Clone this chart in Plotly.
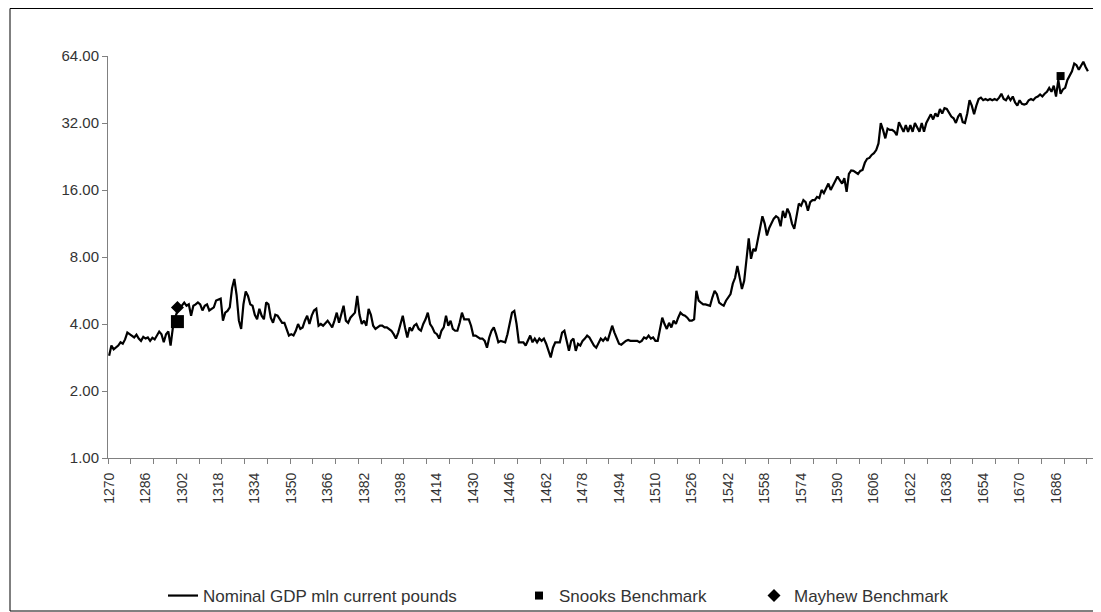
import plotly.graph_objects as go

# nominal GDP, mln current pounds, one value per year from 1270 to 1700
years = list(range(1270, 1701))
gdp = [
    2.88, 3.20, 3.08, 3.13, 3.20, 3.31, 3.26, 3.41, 3.66, 3.60,  # 1270s
    3.55, 3.48, 3.58, 3.44, 3.36, 3.50, 3.44, 3.48, 3.36, 3.47,
    3.41, 3.58, 3.70, 3.60, 3.31, 3.60, 3.70, 3.20, 3.85, 4.27,
    4.58, 4.70, 4.83, 4.99, 4.83, 4.90, 4.36, 4.83, 4.90, 5.00,  # 1300s
    4.90, 4.60, 4.83, 4.90, 4.60, 4.68, 4.75, 5.10, 5.15, 5.20,
    4.14, 4.50, 4.58, 4.75, 5.80, 6.37, 5.40, 4.14, 3.80, 4.90,
    5.60, 5.35, 4.90, 4.83, 4.40, 4.20, 4.68, 4.36, 4.20, 5.00,
    4.90, 4.27, 4.05, 4.40, 4.36, 4.20, 4.05, 4.05, 3.80, 3.55,
    3.60, 3.55, 3.73, 4.00, 3.80, 3.86, 4.14, 4.36, 4.00, 4.36,  # 1350s
    4.60, 4.68, 3.93, 4.00, 3.93, 4.05, 4.14, 4.00, 3.86, 4.14,
    4.50, 4.05, 4.50, 4.83, 4.14, 4.05, 4.27, 4.40, 4.50, 5.35,
    4.40, 4.00, 4.14, 3.93, 4.68, 4.40, 3.93, 3.80, 3.86, 3.93,
    3.93, 3.86, 3.86, 3.80, 3.73, 3.60, 3.44, 3.66, 4.00, 4.36,
    3.86, 3.48, 3.86, 3.73, 3.93, 4.00, 3.80, 3.73, 4.00, 4.20,  # 1400s
    4.50, 4.00, 3.86, 3.66, 3.60, 3.44, 3.73, 3.86, 4.36, 3.93,
    4.14, 3.80, 3.73, 3.73, 4.05, 4.50, 4.20, 4.20, 4.20, 3.93,
    3.55, 3.55, 3.48, 3.44, 3.44, 3.36, 3.13, 3.48, 3.73, 3.86,
    3.60, 3.31, 3.36, 3.34, 3.31, 3.60, 4.00, 4.50, 4.58, 4.00,
    3.31, 3.31, 3.31, 3.20, 3.36, 3.55, 3.31, 3.44, 3.31, 3.44,  # 1450s
    3.36, 3.44, 3.26, 3.03, 2.83, 3.13, 3.31, 3.31, 3.31, 3.66,
    3.73, 3.36, 3.03, 3.36, 3.44, 3.03, 3.26, 3.20, 3.36, 3.44,
    3.55, 3.48, 3.31, 3.20, 3.13, 3.26, 3.44, 3.36, 3.47, 3.36,
    3.60, 3.93, 3.66, 3.44, 3.26, 3.23, 3.31, 3.36, 3.39, 3.36,
    3.36, 3.36, 3.36, 3.31, 3.36, 3.48, 3.44, 3.55, 3.44, 3.48,  # 1500s
    3.36, 3.36, 3.86, 4.27, 4.00, 3.80, 4.05, 3.86, 4.14, 4.00,
    4.27, 4.50, 4.40, 4.36, 4.27, 4.14, 4.14, 4.20, 5.64, 5.09,
    4.99, 4.90, 4.90, 4.87, 4.83, 5.26, 5.64, 5.45, 4.99, 4.90,
    4.83, 5.09, 5.26, 5.45, 6.07, 6.45, 7.30, 6.37, 5.75, 6.25,
    7.95, 9.70, 7.85, 8.70, 8.50, 9.50, 10.8, 12.2, 11.3, 10.0,  # 1550s
    10.8, 11.3, 11.9, 12.2, 12.0, 11.0, 12.9, 12.0, 13.2, 12.5,
    11.3, 10.7, 12.0, 13.9, 13.6, 14.4, 14.1, 12.9, 14.1, 14.4,
    14.4, 14.9, 14.7, 16.0, 15.5, 16.3, 17.1, 16.0, 16.8, 17.4,
    18.4, 17.7, 17.1, 18.1, 15.7, 18.9, 19.6, 19.5, 19.2, 18.9,
    19.5, 19.7, 21.2, 22.1, 22.3, 23.0, 23.4, 24.2, 25.9, 32.0,  # 1600s
    29.8, 27.3, 30.2, 29.8, 29.8, 29.3, 28.2, 32.3, 30.7, 29.2,
    31.3, 29.2, 31.3, 29.2, 32.0, 30.7, 29.2, 32.0, 29.2, 32.0,
    33.6, 35.0, 33.2, 35.3, 34.2, 37.0, 35.3, 37.3, 37.0, 35.3,
    34.2, 33.6, 32.0, 34.2, 35.3, 32.3, 32.0, 35.3, 40.5, 38.3,
    35.0, 38.3, 41.0, 41.6, 40.5, 41.0, 40.5, 41.0, 40.5, 41.0,  # 1650s
    40.5, 41.6, 43.3, 41.0, 40.5, 42.1, 40.5, 42.1, 39.6, 38.3,
    40.5, 39.0, 38.7, 39.0, 40.5, 41.0, 40.5, 41.6, 42.1, 43.0,
    42.1, 43.3, 44.2, 46.0, 44.2, 47.1, 42.1, 50.0, 43.3, 45.3,
    46.0, 50.0, 51.9, 54.6, 59.2, 58.2, 55.5, 58.2, 60.3, 57.1,
    54.6,  # 1700
]

# Snooks benchmarks: the 1300 one is drawn larger than the 1688 one
snooks_years = [1688]
snooks_vals = [52.0]
snooks_1300_years = [1300]
snooks_1300_vals = [4.1]
mayhew_years = [1300]
mayhew_vals = [4.75]

x_labels = list(range(1270, 1700, 16))
y_ticks = [1, 2, 4, 8, 16, 32, 64]

family = "Liberation Sans, Arial, sans-serif"
x_font = dict(family=family, size=14, color="#333333")
y_font = dict(family=family, size=15, color="#333333")
leg_font = dict(family=family, size=17, color="#333333")

# the page has an 8px body margin, so the figure is 8px smaller than the window
W, H = 1093, 604
L, R, T, B = 100, 4, 48, 154
pw, ph = W - L - R, H - T - B


def px(x):
    return (x - L) / pw


def py(y):
    return (H - B - y) / ph


fig = go.Figure()
fig.add_trace(go.Scatter(x=years, y=gdp, mode="lines", name="Nominal GDP mln current pounds",
                         line=dict(color="black", width=2.2), legend="legend2"))
fig.add_trace(go.Scatter(x=snooks_1300_years, y=snooks_1300_vals, mode="markers", showlegend=False,
                         marker=dict(symbol="square", size=13, color="black")))
fig.add_trace(go.Scatter(x=snooks_years, y=snooks_vals, mode="markers", name="Snooks Benchmark",
                         marker=dict(symbol="square", size=8, color="black"), legend="legend3"))
fig.add_trace(go.Scatter(x=mayhew_years, y=mayhew_vals, mode="markers", name="Mayhew Benchmark",
                         marker=dict(symbol="diamond", size=10, color="black"), legend="legend4"))

leg = dict(orientation="h", yanchor="middle", xanchor="left", font=leg_font,
           bgcolor="rgba(0,0,0,0)", borderwidth=0)
fig.update_layout(
    width=W, height=H,
    margin=dict(l=L, r=R, t=T, b=B, autoexpand=False),
    paper_bgcolor="white", plot_bgcolor="white",
    font=x_font,
    showlegend=True,
    legend2=dict(leg, x=px(155), y=py(588)),
    legend3=dict(leg, x=px(511), y=py(588)),
    legend4=dict(leg, x=px(746), y=py(588)),
    xaxis=dict(
        range=[1269.5, 1704], showgrid=False, zeroline=False, automargin=False,
        showline=True, linecolor="#808080", linewidth=1,
        tickvals=x_labels, ticktext=[str(v) for v in x_labels],
        tickangle=-90, ticks="", ticklen=0, tickfont=x_font, ticklabelstandoff=8,
        minor=dict(tick0=1269.5, dtick=10, ticks="outside", ticklen=5, tickcolor="#808080"),
    ),
    yaxis=dict(
        type="log", range=[0, 1.80618], showgrid=False, zeroline=False, automargin=False,
        showline=True, linecolor="#808080", linewidth=1,
        tickvals=y_ticks, ticktext=["%.2f" % v for v in y_ticks],
        ticks="outside", ticklen=5, tickcolor="#808080", tickfont=y_font,
    ),
    shapes=[dict(type="rect", xref="paper", yref="paper",
                 x0=px(2), x1=px(1091), y0=py(603), y1=py(0.5),
                 line=dict(color="black", width=1))],
)

fig.write_html("out.html")
